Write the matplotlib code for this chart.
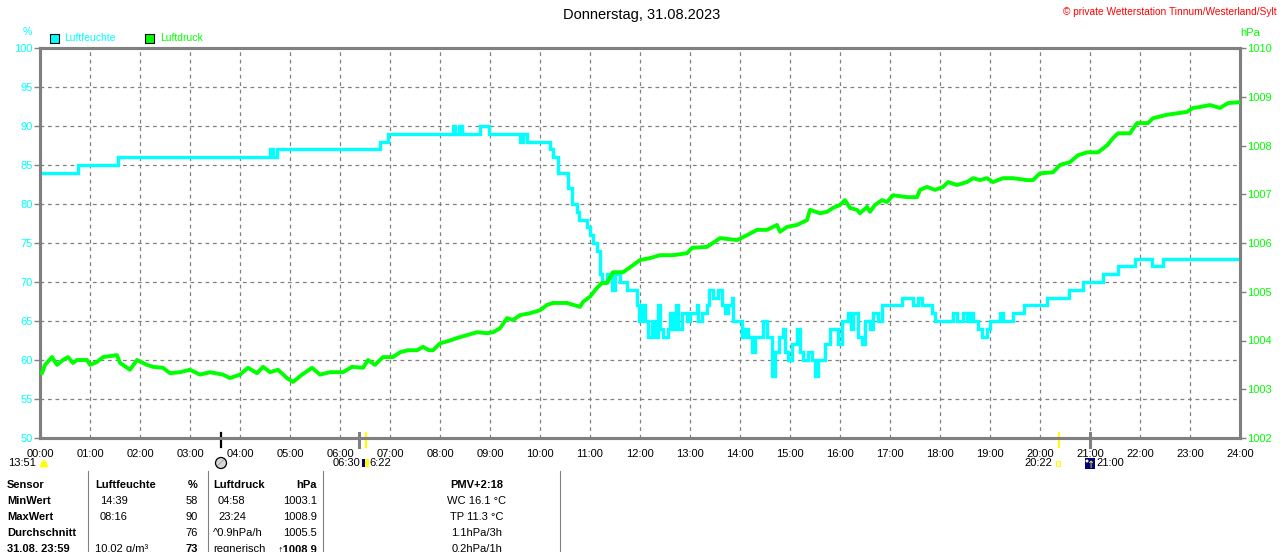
import matplotlib
matplotlib.use("Agg")
import matplotlib.pyplot as plt
from matplotlib.patches import Rectangle, Ellipse, Polygon
from matplotlib.lines import Line2D

# ---------------- data ----------------
hours = list(range(25))
x_labels = [f"{h:02d}:00" for h in hours]
hum_ticks = [50, 55, 60, 65, 70, 75, 80, 85, 90, 95, 100]
press_ticks = [1002, 1003, 1004, 1005, 1006, 1007, 1008, 1009, 1010]

hum_t = [0.0, 0.76, 1.55, 4.6, 4.65, 4.74, 6.8, 6.95, 8.25, 8.3, 8.38, 8.44, 8.8, 8.97,
         9.6, 9.66, 9.74, 10.2, 10.26, 10.36, 10.56, 10.64, 10.74, 10.78, 10.94, 11.0,
         11.06, 11.14, 11.2, 11.24, 11.34, 11.44, 11.5, 11.6, 11.74, 11.94, 11.98, 12.04,
         12.1, 12.16, 12.24, 12.3, 12.36, 12.4, 12.46, 12.56, 12.6, 12.66, 12.72, 12.76,
         12.84, 12.94, 13.0, 13.14, 13.16, 13.24, 13.34, 13.38, 13.46, 13.56, 13.64, 13.7,
         13.76, 13.84, 13.86, 14.04, 14.1, 14.16, 14.24, 14.3, 14.46, 14.54, 14.64, 14.7,
         14.78, 14.86, 14.9, 14.96, 15.04, 15.14, 15.2, 15.26, 15.36, 15.44, 15.5, 15.56,
         15.7, 15.8, 15.96, 16.04, 16.16, 16.22, 16.26, 16.36, 16.44, 16.5, 16.6, 16.66,
         16.76, 16.84, 17.24, 17.46, 17.56, 17.64, 17.84, 17.9, 18.26, 18.34, 18.46, 18.54,
         18.6, 18.66, 18.76, 18.84, 18.94, 19.0, 19.2, 19.26, 19.46, 19.68, 20.14, 20.58,
         20.86, 21.26, 21.56, 21.9, 22.24, 22.46, 24.0]
hum_v = [84, 85, 86, 87, 86, 87, 88, 89, 90, 89, 90, 89, 90, 89,
         88, 89, 88, 87, 86, 84, 82, 80, 79, 78, 77, 76,
         75, 74, 71, 70, 71, 69, 71, 70, 69, 67, 65, 67,
         65, 63, 65, 63, 67, 64, 63, 64, 66, 64, 67, 64,
         66, 65, 66, 67, 65, 66, 67, 69, 68, 69, 67, 66,
         67, 68, 65, 63, 64, 63, 61, 63, 65, 63, 58, 61,
         63, 64, 61, 60, 62, 64, 61, 60, 61, 60, 58, 60,
         62, 64, 62, 65, 66, 64, 66, 63, 62, 65, 64, 66,
         65, 67, 68, 67, 68, 67, 66, 65, 66, 65, 66, 65,
         66, 65, 64, 63, 64, 65, 66, 65, 66, 67, 68, 69,
         70, 71, 72, 73, 72, 73, 73]

press_t = [0.0, 0.04, 0.1, 0.24, 0.34, 0.46, 0.56, 0.66, 0.74, 0.94, 1.0, 1.14, 1.26, 1.54,
           1.6, 1.8, 1.94, 2.14, 2.26, 2.46, 2.6, 2.8, 3.0, 3.2, 3.4, 3.66, 3.8, 4.0, 4.16,
           4.34, 4.46, 4.6, 4.76, 4.94, 5.06, 5.24, 5.44, 5.6, 5.8, 6.06, 6.24, 6.46, 6.56,
           6.7, 6.86, 7.06, 7.2, 7.36, 7.54, 7.66, 7.78, 7.86, 8.0, 8.2, 8.34, 8.54, 8.74,
           8.94, 9.06, 9.2, 9.34, 9.46, 9.6, 9.8, 10.0, 10.14, 10.26, 10.54, 10.8, 10.86,
           11.0, 11.14, 11.24, 11.34, 11.46, 11.66, 11.8, 12.0, 12.2, 12.4, 12.66, 12.94,
           13.04, 13.34, 13.6, 13.94, 14.14, 14.34, 14.54, 14.74, 14.8, 14.94, 15.14, 15.34,
           15.4, 15.6, 15.74, 15.86, 16.0, 16.1, 16.2, 16.34, 16.4, 16.54, 16.6, 16.7, 16.84,
           16.94, 17.06, 17.34, 17.54, 17.6, 17.74, 17.9, 18.06, 18.16, 18.34, 18.54, 18.66,
           18.8, 18.94, 19.06, 19.26, 19.46, 19.74, 19.86, 20.0, 20.26, 20.4, 20.6, 20.76,
           20.94, 21.16, 21.34, 21.46, 21.56, 21.8, 21.94, 22.16, 22.26, 22.54, 22.8, 22.94,
           23.06, 23.2, 23.4, 23.6, 23.76, 23.98, 24.0]
press_v = [1003.33, 1003.33, 1003.5, 1003.66, 1003.5, 1003.6, 1003.66, 1003.54, 1003.6,
           1003.6, 1003.5, 1003.56, 1003.66, 1003.7, 1003.54, 1003.4, 1003.6, 1003.5,
           1003.46, 1003.44, 1003.33, 1003.35, 1003.4, 1003.3, 1003.35, 1003.3, 1003.23,
           1003.3, 1003.44, 1003.33, 1003.46, 1003.35, 1003.4, 1003.23, 1003.15, 1003.3,
           1003.44, 1003.3, 1003.35, 1003.35, 1003.46, 1003.44, 1003.6, 1003.5, 1003.66,
           1003.66, 1003.76, 1003.8, 1003.8, 1003.87, 1003.8, 1003.8, 1003.94, 1004.0,
           1004.05, 1004.11, 1004.17, 1004.15, 1004.17, 1004.25, 1004.46, 1004.42, 1004.52,
           1004.56, 1004.62, 1004.73, 1004.77, 1004.77, 1004.69, 1004.79, 1004.9, 1005.08,
           1005.18, 1005.18, 1005.4, 1005.4, 1005.5, 1005.65, 1005.69, 1005.75, 1005.75,
           1005.79, 1005.9, 1005.92, 1006.1, 1006.06, 1006.16, 1006.27, 1006.27, 1006.37,
           1006.23, 1006.33, 1006.37, 1006.47, 1006.68, 1006.61, 1006.64, 1006.72, 1006.78,
           1006.88, 1006.72, 1006.68, 1006.61, 1006.74, 1006.64, 1006.78, 1006.88, 1006.84,
           1006.98, 1006.94, 1006.94, 1007.09, 1007.15, 1007.09, 1007.15, 1007.25, 1007.19,
           1007.25, 1007.33, 1007.29, 1007.33, 1007.25, 1007.33, 1007.33, 1007.29, 1007.29,
           1007.43, 1007.45, 1007.6, 1007.66, 1007.8, 1007.86, 1007.86, 1008.0, 1008.15,
           1008.25, 1008.25, 1008.46, 1008.46, 1008.56, 1008.63, 1008.67, 1008.69, 1008.77,
           1008.79, 1008.83, 1008.77, 1008.87, 1008.89, 1008.89]

event_t = [3.61, 6.37, 6.52, 20.37, 21.0]
event_c = ["black", "#808080", "#FFFF00", "#FFFF00", "#808080"]

title = "Donnerstag, 31.08.2023"
copyright_txt = "\u00a9 private Wetterstation Tinnum/Westerland/Sylt"

table_rows = ["Sensor", "MinWert", "MaxWert", "Durchschnitt", "31.08. 23:59"]
hum_time = ["Luftfeuchte", "14:39", "08:16", "", "10.02 g/m\u00b3"]
hum_val = ["%", "58", "90", "76", "73"]
pr_time = ["Luftdruck", "04:58", "23:24", "^0.9hPa/h", "regnerisch"]
pr_val = ["hPa", "1003.1", "1008.9", "1005.5", "\u21911008.9"]
pmv_col = ["PMV+2:18", "WC 16.1 \u00b0C", "TP 11.3 \u00b0C", "1.1hPa/3h", "0.2hPa/1h"]

# ---------------- style ----------------
CYAN = "#00FFFF"
GREEN = "#00FF00"
GRAY = "#808080"
FONT = ["Liberation Sans", "DejaVu Sans"]
plt.rcParams["font.family"] = FONT
plt.rcParams["hatch.linewidth"] = 0.6

W, H = 1280, 552
fig = plt.figure(figsize=(W / 100, H / 100), dpi=100)


def fx(x):
    return x / W


def fy(y):
    return 1 - y / H


ax = fig.add_axes([fx(40), fy(438), 1200 / W, 390 / H])
ax2 = ax.twinx()

ax.set_xlim(0, 24)
ax.set_ylim(50, 100)
ax2.set_ylim(1002, 1010)

ax.plot(hum_t, hum_v, color=CYAN, lw=2.4, drawstyle="steps-post", solid_joinstyle="miter", zorder=3)
ax2.plot(press_t, press_v, color=GREEN, lw=2.8, zorder=3)

ax.set_xticks(hours)
ax.set_xticklabels(x_labels, fontsize=8, color="black")
ax.set_yticks(hum_ticks)
ax.set_yticklabels([str(v) for v in hum_ticks], fontsize=8, color=CYAN)
ax2.set_yticks(press_ticks)
ax2.set_yticklabels([str(v) for v in press_ticks], fontsize=8, color=GREEN)

ax.tick_params(axis="x", length=0, pad=8)
ax.tick_params(axis="y", length=4, width=1, color=GRAY, pad=1)
ax2.tick_params(axis="y", length=4, width=1, color=GRAY, pad=1)

ax.grid(True, color=GRAY, linestyle=(0, (3, 3)), linewidth=0.9)
for a in (ax, ax2):
    for s in a.spines.values():
        s.set_color(GRAY)
        s.set_linewidth(2.2)

# event markers under axis
tr = ax.get_xaxis_transform()
for t, c in zip(event_t, event_c):
    lw = 2.2 if c == GRAY else 1.6
    ax.plot([t, t], [0.012, -0.022], color=c, lw=lw, transform=tr, clip_on=False, zorder=5)

# title and texts
fig.text(fx(642), fy(15), title, ha="center", va="center", fontsize=10.5, color="black")
fig.text(fx(1277), fy(12), copyright_txt, ha="right", va="center", fontsize=7.3, color="#FF0000")
fig.text(fx(27), fy(32), "%", ha="center", va="center", fontsize=7.5, color=CYAN)
fig.text(fx(1250), fy(33), "hPa", ha="center", va="center", fontsize=8, color=GREEN)

# legend
fig.add_artist(Rectangle((fx(50), fy(43)), 9 / W, 9 / H, transform=fig.transFigure,
                         facecolor=CYAN, edgecolor="black", lw=0.8))
fig.text(fx(64), fy(38), "Luftfeuchte", ha="left", va="center", fontsize=7.5, color=CYAN)
fig.add_artist(Rectangle((fx(145), fy(43)), 9 / W, 9 / H, transform=fig.transFigure,
                         facecolor=GREEN, edgecolor="black", lw=0.8))
fig.text(fx(160), fy(38), "Luftdruck", ha="left", va="center", fontsize=7.5, color=GREEN)

# sun / moon annotations
fig.text(fx(36), fy(463), "13:51", ha="right", va="center", fontsize=8)
fig.add_artist(Polygon([(fx(40), fy(467)), (fx(42), fy(462)), (fx(44), fy(460)),
                        (fx(46), fy(462)), (fx(48), fy(467))], closed=True,
                       transform=fig.transFigure, facecolor="#FFFF00", edgecolor="#FFFF00", lw=0.5))
fig.add_artist(Ellipse((fx(221), fy(463)), 11 / W, 11 / H, transform=fig.transFigure,
                       facecolor="#D8D8D8", edgecolor="#A0A0A0", lw=0, hatch="////"))
fig.add_artist(Ellipse((fx(221), fy(463)), 11 / W, 11 / H, transform=fig.transFigure,
                       facecolor="none", edgecolor="black", lw=0.9))
fig.text(fx(360), fy(463), "06:30", ha="right", va="center", fontsize=8)
fig.add_artist(Rectangle((fx(362), fy(467)), 3 / W, 8 / H, transform=fig.transFigure,
                         facecolor="#000080", edgecolor="none"))
fig.add_artist(Rectangle((fx(365), fy(467)), 4 / W, 8 / H, transform=fig.transFigure,
                         facecolor="#FFFF00", edgecolor="none"))
fig.text(fx(369), fy(463), "6:22", ha="left", va="center", fontsize=8)
fig.text(fx(1052), fy(463), "20:22", ha="right", va="center", fontsize=8)
fig.add_artist(Rectangle((fx(1056), fy(466)), 4 / W, 5 / H, transform=fig.transFigure,
                         facecolor="none", edgecolor="#FFFF00", lw=0.8))
fig.add_artist(Rectangle((fx(1085), fy(469)), 10 / W, 11 / H, transform=fig.transFigure,
                         facecolor="#000080", edgecolor="none"))
fig.add_artist(Ellipse((fx(1087), fy(461)), 3 / W, 3 / H, transform=fig.transFigure,
                       facecolor="white", edgecolor="none"))
fig.text(fx(1091), fy(465), "\u2191", ha="center", va="center", fontsize=7, color="#FFFF00",
         family=["DejaVu Sans"])
fig.text(fx(1096), fy(463), "21:00", ha="left", va="center", fontsize=8)

# table separators
for xs in (88, 208, 323, 560):
    fig.add_artist(Line2D([fx(xs), fx(xs)], [fy(471), fy(552)], transform=fig.transFigure,
                          color=GRAY, lw=0.8))

row_y = [485, 501, 517, 533, 549]
for i, y in enumerate(row_y):
    head = i == 0
    fig.text(fx(7), fy(y), table_rows[i], ha="left", va="center", fontsize=8, fontweight="bold")
    fig.text(fx(95 if head or i == 4 else 100), fy(y), hum_time[i], ha="left", va="center",
             fontsize=8, fontweight="bold" if head else "normal")
    fig.text(fx(198), fy(y), hum_val[i], ha="right", va="center", fontsize=8,
             fontweight="bold" if head or i == 4 else "normal")
    fig.text(fx(213 if head or i >= 3 else 218), fy(y), pr_time[i], ha="left", va="center",
             fontsize=8, fontweight="bold" if head else "normal")
    fig.text(fx(317), fy(y), pr_val[i], ha="right", va="center", fontsize=8,
             fontweight="bold" if head or i == 4 else "normal", family=FONT)
    fig.text(fx(477), fy(y), pmv_col[i], ha="center", va="center", fontsize=8,
             fontweight="bold" if head else "normal")

fig.savefig("out.png", dpi=100, facecolor="white")
